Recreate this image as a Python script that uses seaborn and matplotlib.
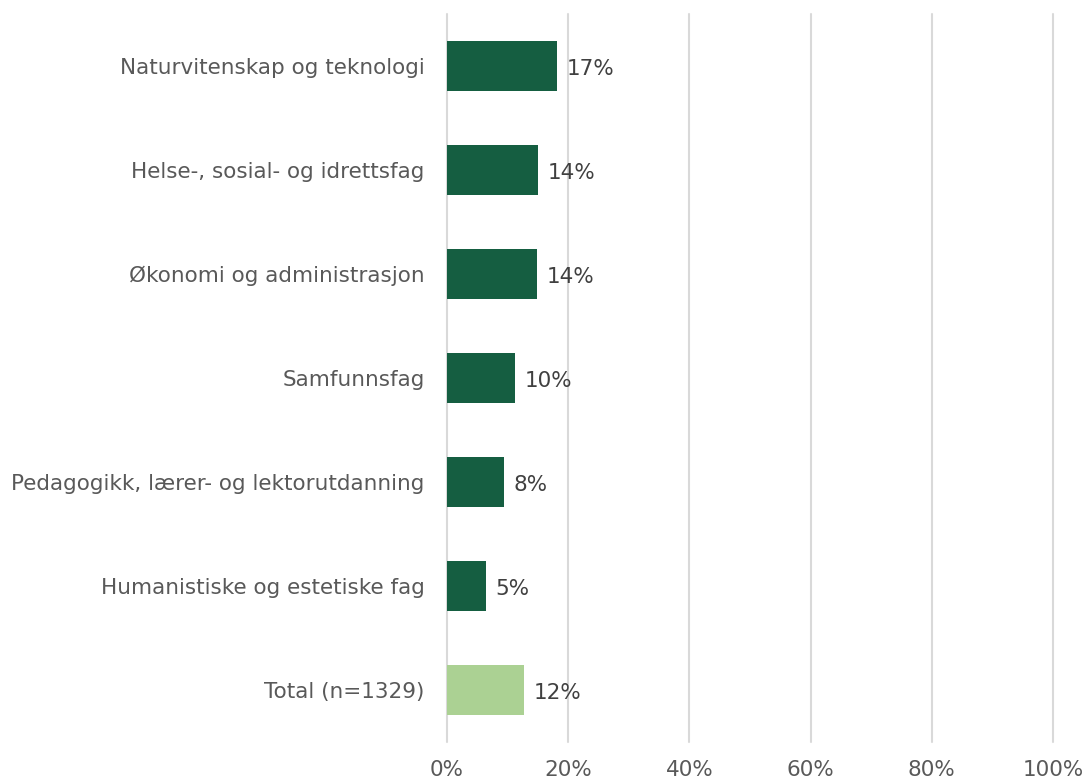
import seaborn as sns
import matplotlib.pyplot as plt
import pandas as pd
from matplotlib.ticker import PercentFormatter

# DATA
categories = [
    "Naturvitenskap og teknologi",
    "Helse-, sosial- og idrettsfag",
    "Økonomi og administrasjon",
    "Samfunnsfag",
    "Pedagogikk, lærer- og lektorutdanning",
    "Humanistiske og estetiske fag",
    "Total (n=1329)",
]
# bar lengths (percent)
values = [18.1, 15.0, 14.9, 11.2, 9.4, 6.4, 12.7]
# value labels as printed in the picture
value_labels = ["17%", "14%", "14%", "10%", "8%", "5%", "12%"]
x_ticks = [0, 20, 40, 60, 80, 100]

df_plot = pd.DataFrame({"category": categories, "value": values})

dark_green = "#155E41"
light_green = "#ABD193"
bar_colors = [dark_green] * (len(categories) - 1) + [light_green]

# PLOTTING
sns.set_theme(style="white")
plt.rcParams["font.family"] = ["DejaVu Sans"]

fig = plt.figure(figsize=(10.87, 7.81), dpi=100)
ax = fig.add_axes([0.4112, 0.05, 0.5575, 0.932])

sns.barplot(data=df_plot, y="category", x="value", hue="category",
            palette=bar_colors, legend=False, width=0.48,
            saturation=1, linewidth=0, ax=ax, zorder=3)

# labels at the end of each bar (slightly below centre, as in the original)
for container, lab in zip(ax.containers, value_labels):
    texts = ax.bar_label(container, labels=[lab], padding=7, fontsize=15.5, color="#404040")
    for t in texts:
        t.set_position((7, -2))

ax.set_xlim(0, 100)
ax.set_ylim(6.5, -0.5)
ax.set_xticks(x_ticks)
ax.xaxis.set_major_formatter(PercentFormatter(decimals=0))
ax.grid(axis="x", color="#D9D9D9", linewidth=1.5, zorder=0)
ax.grid(axis="y", visible=False)
ax.set_axisbelow(True)
for line in ax.get_xgridlines():
    line.set_clip_on(False)

for side in ["top", "right", "bottom", "left"]:
    ax.spines[side].set_visible(False)

ax.tick_params(axis="y", length=0, pad=16, labelsize=15.5, labelcolor="#595959")
ax.tick_params(axis="x", length=0, pad=13, labelsize=15.5, labelcolor="#595959")
ax.set_xlabel("")
ax.set_ylabel("")

fig.savefig("out.png", dpi=100)
